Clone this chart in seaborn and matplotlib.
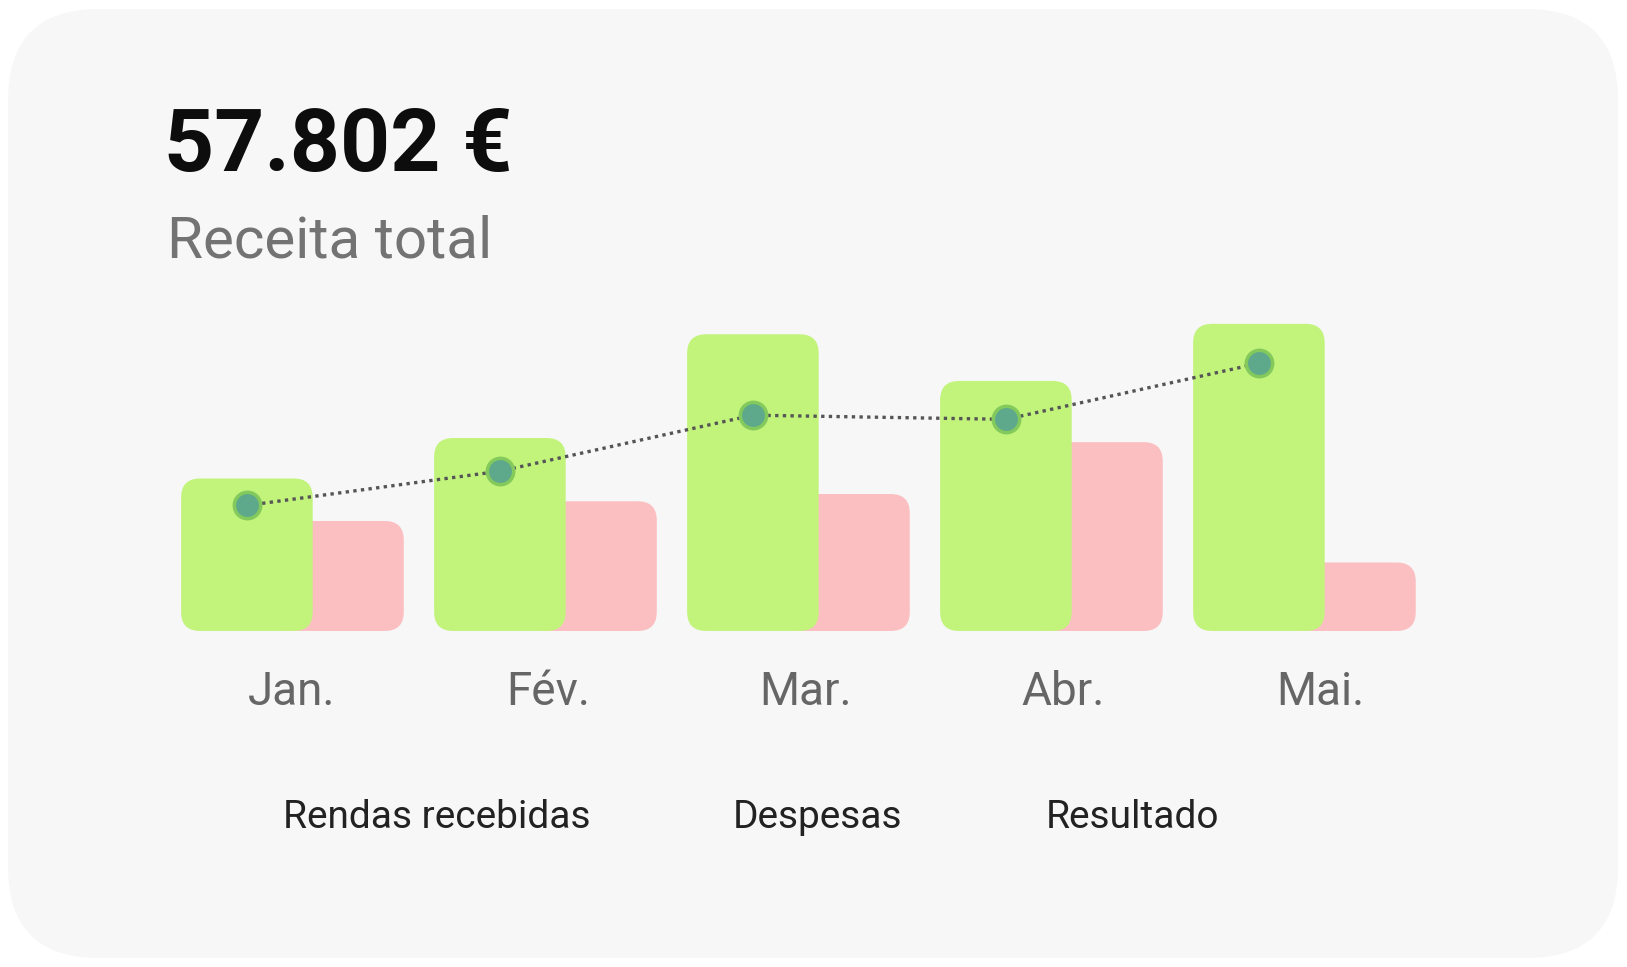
import matplotlib

matplotlib.use("Agg")
import matplotlib.pyplot as plt
import numpy as np
import seaborn as sns
from matplotlib.lines import Line2D
from matplotlib.patches import FancyBboxPatch, Patch, Rectangle

# data
months = ["Jan.", "Fév.", "Mar.", "Abr.", "Mai."]
rendas = [7350, 9300, 14300, 12050, 14802]
despesas = [5300, 6250, 6600, 9100, 3300]
resultado = [6050, 7700, 10400, 10200, 12900]
total_label = "57.802 €"
subtitle = "Receita total"
series_labels = ["Rendas recebidas", "Despesas", "Resultado"]

GREEN = "#c2f47c"
PINK = "#fbbfc1"
DOT_FACE = "#5ea98b"
DOT_EDGE = "#84c95c"
LINE = "#555555"
CARD = "#f7f7f7"

W, H = 1627, 967

sns.set_theme(style="white")
plt.rcParams["font.family"] = ["Roboto", "DejaVu Sans"]


def round_bars(ax, radius_px):
    # swap the plain bar rectangles for rounded ones of the same size
    x0, y0 = ax.transData.transform((0, 0))
    x1, y1 = ax.transData.transform((1, 1))
    px_x, px_y = x1 - x0, y1 - y0
    for bar in [p for p in ax.patches if isinstance(p, Rectangle)]:
        rounded = FancyBboxPatch(
            (bar.get_x(), bar.get_y()),
            bar.get_width(),
            bar.get_height(),
            boxstyle=f"round,pad=0,rounding_size={radius_px / px_x}",
            mutation_aspect=px_x / px_y,
            facecolor=bar.get_facecolor(),
            edgecolor="none",
            zorder=bar.get_zorder(),
        )
        bar.remove()
        ax.add_patch(rounded)


def main() -> None:
    fig = plt.figure(figsize=(W / 100, H / 100), dpi=100)
    fig.patch.set_facecolor("white")
    card = FancyBboxPatch(
        (8 / W, 9 / H), 1610 / W, 949 / H,
        boxstyle="round,pad=0,rounding_size=0.056",
        mutation_aspect=W / H,
        transform=fig.transFigure,
        facecolor=CARD, edgecolor="none", zorder=-1,
    )
    fig.add_artist(card)

    ax = fig.add_axes([0.088, 0.3475, 0.8086, 0.3433])
    ax.set_facecolor("none")

    idx = np.arange(len(months))
    sns.barplot(x=idx + 0.17, y=despesas, native_scale=True, orient="x", width=0.52,
                color=PINK, saturation=1, errorbar=None, ax=ax, zorder=2)
    sns.barplot(x=idx - 0.19, y=rendas, native_scale=True, orient="x", width=0.52,
                color=GREEN, saturation=1, errorbar=None, ax=ax, zorder=3)
    sns.lineplot(x=idx - 0.19, y=resultado, ax=ax, color=LINE, lw=2.4,
                 linestyle=(0, (1, 1.3)), marker="o", markersize=19,
                 markerfacecolor=DOT_FACE, markeredgecolor=DOT_EDGE,
                 markeredgewidth=2.5, zorder=4)

    ax.set_xlim(-0.6, 4.6)
    ax.set_ylim(0, 16000)
    # the month labels sit a little wider apart than the bar groups
    ax.set_xticks(idx * 1.017 - 0.015, months)
    ax.set_yticks([])
    ax.set_xlabel("")
    ax.set_ylabel("")
    ax.tick_params(axis="x", length=0, pad=28, labelsize=33, labelcolor="#666666")
    sns.despine(ax=ax, left=True, bottom=True)

    round_bars(ax, 19)

    fig.text(164 / W, 1 - 147 / H, total_label, fontsize=63, fontweight="bold",
             color="#0d0d0d", va="center", ha="left")
    fig.text(167 / W, 1 - 242 / H, subtitle, fontsize=42, color="#737373",
             va="center", ha="left")

    handles = [Patch(color=GREEN), Patch(color=PINK), Line2D([], [], color=LINE)]
    leg = ax.legend(handles, series_labels, loc="center",
                    bbox_to_anchor=(751 / W, 1 - 818 / H), bbox_transform=fig.transFigure,
                    ncol=3, frameon=False, handlelength=0, handletextpad=0,
                    columnspacing=3.67, fontsize=28, labelcolor="#222222")
    for handle in leg.legend_handles:
        handle.set_visible(False)

    fig.savefig("out.png", dpi=100, facecolor="white")
    plt.close(fig)


if __name__ == "__main__":
    main()
